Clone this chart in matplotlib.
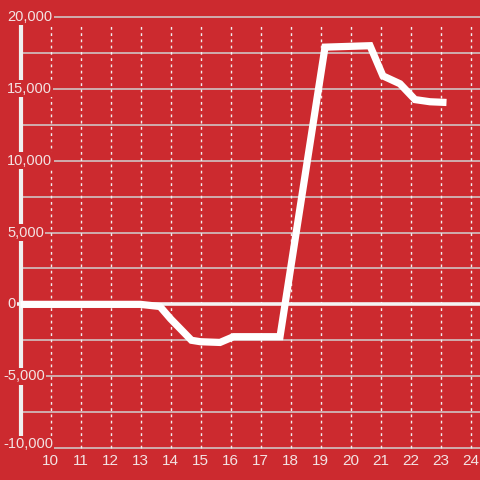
import matplotlib
matplotlib.use("Agg")
import matplotlib.pyplot as plt

# data
hours = [9.0, 13.0, 13.65, 14.0, 14.7, 15.0, 15.65, 16.1, 17.65,
         19.15, 20.65, 21.08, 21.65, 22.15, 22.65, 23.2]
values = [0, 0, -150, -1000, -2500, -2600, -2650, -2250, -2250,
          17900, 18000, 15900, 15350, 14250, 14100, 14050]

x_ticks = list(range(10, 25))
y_ticks = [20000, 15000, 10000, 5000, 0, -5000, -10000]
y_grid = [v * 2500 for v in range(-4, 9)]

BG = "#cc2a2f"
TXT = "#f3e3e3"
PX = 2500 / 36  # data units per pixel on y

fig = plt.figure(figsize=(4.8, 4.8), dpi=100, facecolor=BG)
ax = fig.add_axes([0, 0, 1, 1], facecolor=BG)
ax.set_xlim(10 - 50.5 / 30, 10 + 429.5 / 30)
ax.set_ylim(-10000 - 32 * PX, 20000 + 17 * PX)
ax.axis("off")

# horizontal grid
for v in y_grid:
    if v == 0:
        continue
    ax.axhline(v, xmin=20.5 / 480, color="#d0d0d0", lw=1.1, zorder=1)

# vertical dotted grid
for h in x_ticks:
    ax.plot([h, h], [-10000, 19550], color="#f0f0f0", lw=1,
            ls=(0, (2, 2.5)), zorder=1)

# zero line
ax.axhline(0, xmin=17 / 480, color="#f4f4f4", lw=2.6, zorder=2)

# left spine
ax.plot([9.0, 9.0], [-9500, 19500], color="#f0f0f0", lw=3, zorder=2,
        solid_capstyle="butt")

# data line
ax.plot(hours, values, color="white", lw=5.2, zorder=4,
        solid_joinstyle="miter", solid_capstyle="butt")

# y labels
for v in y_ticks:
    left_px = 7 if v >= 0 else 3
    y = v + 4 * PX if v == -10000 else v
    ax.text(10 - (50.5 - left_px) / 30, y, f"{v:,}", color=TXT,
            fontsize=10.5, family="Liberation Sans", ha="left", va="center",
            zorder=5,
            bbox=dict(facecolor=BG, edgecolor="none", pad=1.0))

# x labels
for h in x_ticks:
    ax.text(h, -10000 - 13 * PX, str(h), color=TXT, fontsize=11,
            family="Liberation Sans", ha="center", va="center", zorder=5)

fig.savefig("out.png", dpi=100, facecolor=BG)
